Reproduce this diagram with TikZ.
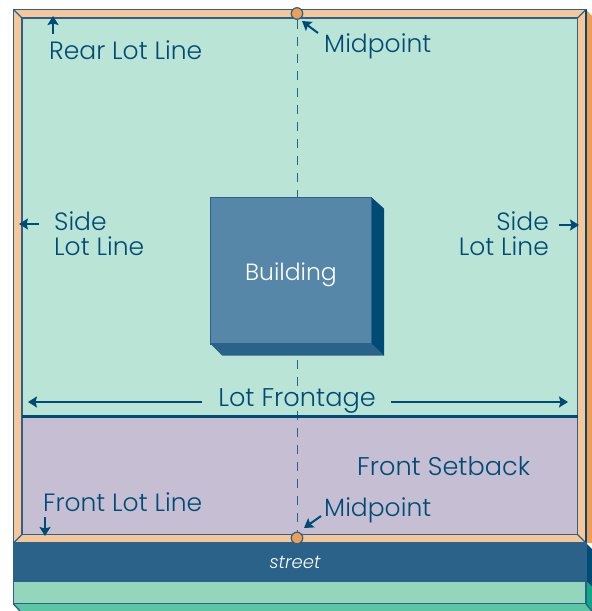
\documentclass[tikz,border=0pt]{standalone}
\usepackage{fontspec}
\setmainfont[UprightFont=* Light,ItalicFont=* Light Italic]{Poppins}
\usetikzlibrary{arrows.meta}
\definecolor{lawn}{HTML}{BAE5D6}
\definecolor{peach}{HTML}{F5C79A}
\definecolor{orangeside}{HTML}{EE9F55}
\definecolor{navy}{HTML}{004B76}
\definecolor{bluefront}{HTML}{5787A8}
\definecolor{blueedge}{HTML}{2A628A}
\definecolor{setback}{HTML}{C6BFD3}
\definecolor{mint}{HTML}{93D6BC}
\definecolor{mintdark}{HTML}{5CC5A3}
\definecolor{tealside}{HTML}{10A884}
\tikzset{
  edge/.style={draw=blueedge,line width=1.3pt},
  lbl/.style={text=navy,font=\fontsize{25}{25}\selectfont,inner sep=0pt,align=left},
  lblwide/.style={lbl,font=\fontsize{25.6}{25}\selectfont},
  callout/.style={draw=navy,line width=2pt,-{Stealth[length=9pt,width=11pt,inset=1.5pt]}},
  dot/.style={circle,draw=blueedge,fill=orangeside,line width=1.2pt,minimum size=11.5pt,inner sep=0pt}
}
\begin{document}
\begin{tikzpicture}[x=1pt,y=-1pt]
\useasboundingbox (0,0) rectangle (592,611);
\fill[white] (0,0) rectangle (592,611);
% lot
\fill[orangeside] (586,9.5) -- (592,16) -- (592,543) -- (586,543) -- cycle;
\filldraw[edge,fill=peach] (13.5,9.5) rectangle (586,543);
\filldraw[edge,fill=lawn] (22,18) rectangle (577.5,416);
\filldraw[edge,fill=setback] (22,416) rectangle (577.5,534.5);
\draw[edge] (13.5,9.5) -- (22,18) (586,9.5) -- (577.5,18) (13.5,543) -- (22,534.5) (586,543) -- (577.5,534.5);
\draw[navy,line width=1.3pt] (586,9.5) -- (586,543);
% street
\fill[navy] (586,543) -- (592,549) -- (592,587) -- (586,581) -- cycle;
\fill[tealside] (586,581) -- (592,587) -- (592,611) -- (586,604) -- cycle;
\filldraw[edge,fill=blueedge] (13.5,543) rectangle (586,581);
\filldraw[edge,fill=mint] (13.5,581) rectangle (586,604);
\fill[mintdark] (13.5,604) -- (586,604) -- (592,611) -- (20,611) -- cycle;
\draw[edge] (13.5,604) -- (20,611) (586,604) -- (592,611);
% axis
\node[dot] (mt) at (297,13.5) {};
\node[dot] (mb) at (297,538) {};
\draw[blueedge,line width=1pt,dash pattern=on 9pt off 8pt] (mt) -- (mb);
% building
\fill[blueedge] (210.7,344) -- (371.7,344) -- (384,355.5) -- (222,355.5) -- cycle;
\fill[navy] (371.7,197.5) -- (384,208.5) -- (384,355.5) -- (371.7,344) -- cycle;
\filldraw[edge,fill=bluefront] (210.7,197.5) rectangle (371.7,344);
\node[text=white,font=\fontsize{23.5}{25}\selectfont,inner sep=0pt] (bld) at (291,275) {Building};
% frontage
\draw[navy,line width=3pt] (22,416) -- (577.5,416);
\node[lblwide] (front) at (297,401) {Lot Frontage};
\coordinate (fl) at (28,402);
\coordinate (fr) at (568,402);
\draw[callout] (202,402) -- (fl);
\draw[callout] (391,402) -- (fr);
% labels
\node[lbl,anchor=west] (rear) at (49,50) {Rear Lot Line};
\coordinate (rearTip) at (53,16);
\coordinate (rearTail) at (53,34);
\draw[callout] (rearTail) -- (rearTip);
\node[lbl,anchor=west] (m1) at (324,46) {Midpoint};
\coordinate (m1Tip) at (302,21);
\coordinate (m1Tail) at (318,33);
\draw[callout] (m1Tail) -- (m1Tip);
\node[lbl,anchor=west] (m2) at (324,510) {Midpoint};
\coordinate (m2Tip) at (304,528);
\coordinate (m2Tail) at (321,516);
\draw[callout] (m2Tail) -- (m2Tip);
\node[lbl,anchor=west] (sl) at (54,234) {Side\\Lot Line};
\coordinate (slTip) at (19,224);
\coordinate (slTail) at (39,224);
\draw[callout] (slTail) -- (slTip);
\node[lbl,anchor=east,align=right] (sr) at (549,234) {Side\\Lot Line};
\coordinate (srTip) at (579,225);
\coordinate (srTail) at (559,225);
\draw[callout] (srTail) -- (srTip);
\node[lbl,anchor=west] (fll) at (43,502) {Front Lot Line};
\coordinate (flTip) at (45,536);
\coordinate (flTail) at (45,517);
\draw[callout] (flTail) -- (flTip);
\node[lblwide,anchor=west] (fs) at (357,466) {Front Setback};
\node[text=white,font=\fontsize{18}{19}\selectfont\itshape,inner sep=0pt] (street) at (295,562) {street};
\end{tikzpicture}
\end{document}
